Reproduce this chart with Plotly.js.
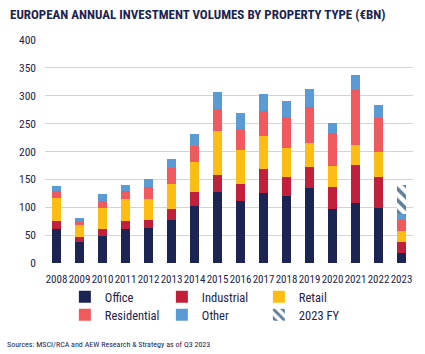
<!DOCTYPE html>
<html>
<head>
<meta charset="utf-8">
<script src="https://cdn.plot.ly/plotly-3.0.1.min.js"></script>
<style>html,body{margin:0;padding:0;background:#fff}#chart{width:425px;height:354px}</style>
</head>
<body>
<div id="chart"></div>
<script>
const years = ['2008','2009','2010','2011','2012','2013','2014','2015','2016','2017','2018','2019','2020','2021','2022','2023'];
const office      = [61, 38, 49, 61, 63, 77, 102, 128, 112, 126, 121, 135, 96, 108, 99, 18];
const industrial  = [15,  8, 12, 14, 14, 20,  25,  29,  30,  43,  34,  38, 41,  68, 56, 20];
const retail      = [41, 23, 37, 40, 38, 44,  54,  79,  61,  58,  51,  43, 37,  35, 44, 20];
const residential = [12,  6, 14, 14, 22, 30,  28,  40,  37,  46,  55,  63, 59, 100, 61, 19];
const other       = [10,  6, 11, 11, 13, 15,  22,  30,  29,  30,  29,  34, 18,  26, 23, 11];
const fy2023Extra = [null,null,null,null,null,null,null,null,null,null,null,null,null,null,null,52];

const FONT = 'Liberation Sans Narrow, Roboto Condensed, Arial Narrow, sans-serif';
const NAVY = '#1b2452';

function bar(name, y, color, leg) {
  return {type:'bar', name:name, x:years, y:y, legend:leg, marker:{color:color, line:{width:0}}, hoverinfo:'y'};
}
const traces = [
  bar('Office', office, '#1b2452', 'legend'),
  bar('Industrial', industrial, '#c0203a', 'legend'),
  bar('Retail', retail, '#fdbd12', 'legend'),
  bar('Residential', residential, '#f05a5e', 'legend2'),
  bar('Other', other, '#5b9bd5', 'legend2'),
  {type:'bar', name:'2023 FY', x:years, y:fy2023Extra, legend:'legend2',
   marker:{color:'#ffffff', line:{width:0},
     pattern:{shape:'\\', fgcolor:'#5d7f9b', bgcolor:'#ffffff', size:8, solidity:0.45}}}
];

const legendBase = {orientation:'h', xanchor:'left', yanchor:'middle',
    entrywidth:52, entrywidthmode:'pixels', itemwidth:30,
    font:{size:12.5, color:NAVY}, traceorder:'normal', bgcolor:'rgba(0,0,0,0)'};

const layout = {
  width:425, height:354,
  margin:{l:45, r:12, t:40, b:91, autoexpand:false},
  paper_bgcolor:'#ffffff', plot_bgcolor:'#ffffff',
  barmode:'stack', bargap:0.6,
  font:{family:FONT, color:NAVY, size:11},
  title:{text:'<b>EUROPEAN ANNUAL INVESTMENT VOLUMES BY PROPERTY TYPE (€BN)</b>',
    x:10/425, xref:'container', xanchor:'left', y:1 - 14/354, yref:'container', yanchor:'middle',
    font:{family:FONT, size:13, color:NAVY}},
  xaxis:{type:'category', showgrid:false, zeroline:false, showline:false,
    ticks:'outside', ticklen:6, tickcolor:'rgba(0,0,0,0)',
    tickangle:0, tickfont:{size:11, color:NAVY}, automargin:false},
  yaxis:{range:[0,400], dtick:50, showgrid:true, gridcolor:'#cdd3ec', gridwidth:1,
    zeroline:false, showline:false, ticks:'', tickfont:{size:11.5, color:NAVY}, automargin:false,
    ticklabelstandoff:8},
  showlegend:true,
  legend:Object.assign({}, legendBase, {x:0.054, y:1 - (297-40)/223}),
  legend2:Object.assign({}, legendBase, {x:0.054, y:1 - (315-40)/223}),
  annotations:[
    {text:'Sources: MSCI/RCA and AEW Research & Strategy as of Q3 2023', xref:'paper', yref:'paper',
     x:-0.11, y:-0.365, xanchor:'left', yanchor:'middle', showarrow:false,
     font:{family:FONT, size:8, color:NAVY}}
  ]
};

Plotly.newPlot('chart', traces, layout, {displayModeBar:false, staticPlot:true});
</script>
</body>
</html>
